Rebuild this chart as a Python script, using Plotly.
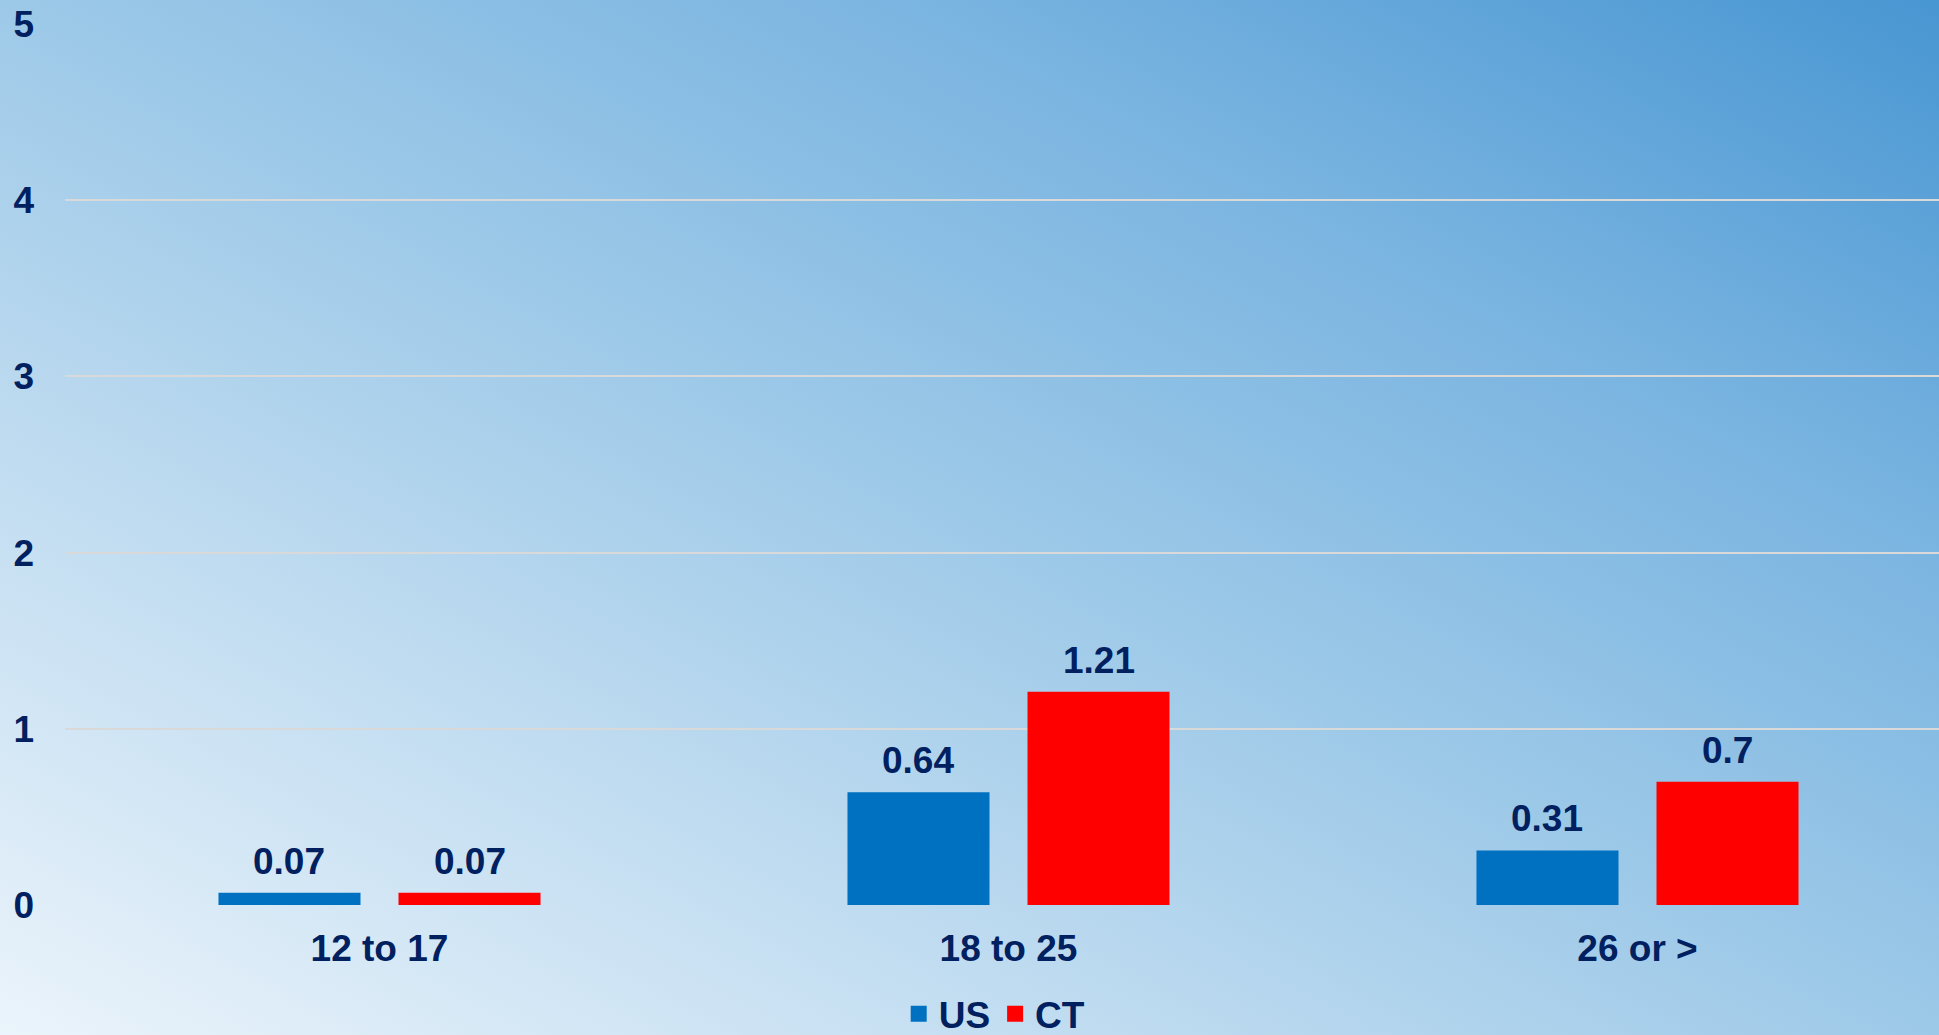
import base64
import plotly.graph_objects as go

# chart data
age_groups = ["12 to 17", "18 to 25", "26 or >"]
us_values = [0.07, 0.64, 0.31]
ct_values = [0.07, 1.21, 0.7]
y_ticks = [0, 1, 2, 3, 4, 5]

navy = "#002060"
us_color = "#0070C0"
ct_color = "#FF0000"
font_family = "Liberation Sans, Arial, sans-serif"
big_font = dict(size=37, color=navy, family=font_family, weight="bold")

W, H = 1939, 1035
bar_w = 0.2258
us_off, ct_off = -0.256, 0.0302

# diagonal gradient background as an inline svg
svg = (
    '<svg xmlns="http://www.w3.org/2000/svg" width="%d" height="%d" '
    'preserveAspectRatio="none" viewBox="0 0 %d %d">'
    '<defs><linearGradient id="g" x1="0" y1="1" x2="1" y2="0">'
    '<stop offset="0" stop-color="#EBF4FB"/>'
    '<stop offset="0.27" stop-color="#C2DDF1"/>'
    '<stop offset="0.5" stop-color="#9DC9E8"/>'
    '<stop offset="0.75" stop-color="#78B3E0"/>'
    '<stop offset="1" stop-color="#4896D2"/>'
    '</linearGradient></defs>'
    '<rect width="100%%" height="100%%" fill="url(#g)"/></svg>'
) % (W, H, W, H)
bg_src = "data:image/svg+xml;base64," + base64.b64encode(svg.encode()).decode()

fig = go.Figure()

fig.add_trace(go.Bar(
    name="US", x=age_groups, y=us_values,
    marker_color=us_color, marker_line_width=0,
    width=bar_w, offset=us_off, showlegend=False,
))
fig.add_trace(go.Bar(
    name="CT", x=age_groups, y=ct_values,
    marker_color=ct_color, marker_line_width=0,
    width=bar_w, offset=ct_off, showlegend=False,
))

# value labels a bit higher above the bars than plotly's outside text
annotations = []
for i, (us, ct) in enumerate(zip(us_values, ct_values)):
    for val, off in [(us, us_off), (ct, ct_off)]:
        annotations.append(dict(
            x=i + off + bar_w / 2, y=val, xref="x", yref="y",
            text=str(val), showarrow=False, yanchor="bottom",
            yshift=9, font=big_font,
        ))

# legend entries with square swatches
for name, color in [("US", us_color), ("CT", ct_color)]:
    fig.add_trace(go.Scatter(
        name=name, x=[None], y=[None], mode="markers",
        marker=dict(symbol="square", size=22, color=color),
    ))

plot_left, plot_top, plot_bottom = 65, 24, 905
pw = W - plot_left
ph = plot_bottom - plot_top

fig.update_layout(
    width=W, height=H,
    margin=dict(l=plot_left, r=0, t=plot_top, b=H - plot_bottom),
    paper_bgcolor="rgba(0,0,0,0)",
    plot_bgcolor="rgba(0,0,0,0)",
    font=big_font,
    barmode="overlay",
    annotations=annotations,
    images=[dict(
        source=bg_src, xref="paper", yref="paper",
        x=-plot_left / pw, y=1 + plot_top / ph,
        sizex=W / pw, sizey=H / ph,
        xanchor="left", yanchor="top", sizing="stretch", layer="below",
    )],
    legend=dict(
        orientation="h", xref="container", yref="container",
        x=0.513, xanchor="center", y=0.02, yanchor="middle",
        font=big_font, itemwidth=30, bgcolor="rgba(0,0,0,0)",
    ),
    xaxis=dict(
        range=[-0.5, pw / 629 - 0.5],
        showgrid=False, zeroline=False, showline=False, ticks="",
        tickfont=big_font, ticklabelstandoff=18,
    ),
    yaxis=dict(
        range=[0, 5], tickvals=y_ticks,
        showgrid=True, gridcolor="#D9D9D9", gridwidth=2,
        zeroline=False, showline=False, ticks="",
        tickfont=big_font, ticklabelstandoff=30,
    ),
)

fig.write_html(
    "out.html",
    config={"displayModeBar": False},
    post_script="document.body.style.margin='0';document.body.style.overflow='hidden';",
)
